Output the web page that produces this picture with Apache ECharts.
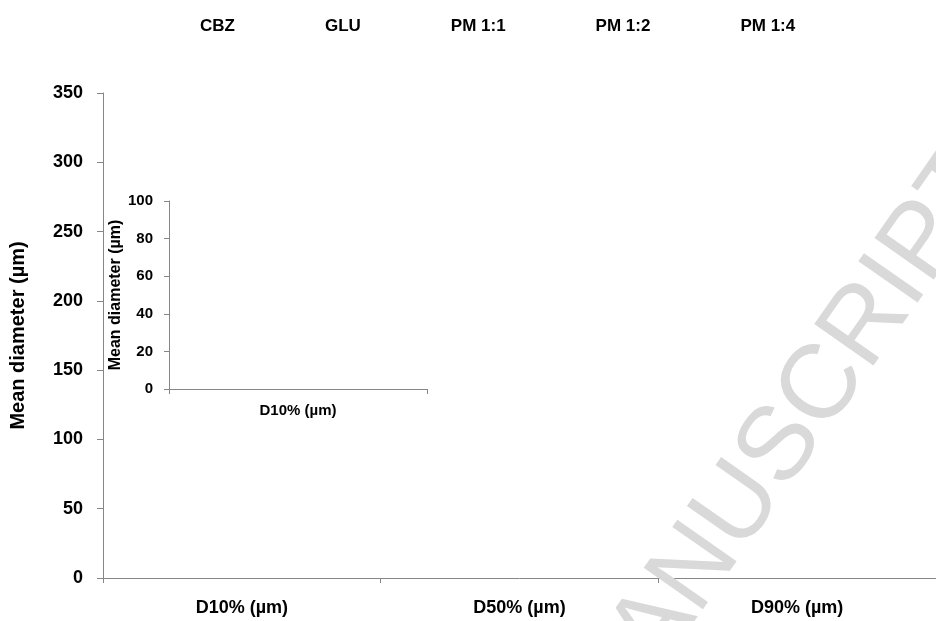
<!DOCTYPE html>
<html>
<head>
<meta charset="utf-8">
<script src="https://cdn.jsdelivr.net/npm/echarts@6/dist/echarts.min.js"></script>
<style>html,body{margin:0;padding:0;background:#fff}#c{width:936px;height:621px}</style>
</head>
<body>
<div id="c"></div>
<script>
// Categories and tick labels
const categories = ['D10% (µm)', 'D50% (µm)', 'D90% (µm)'];
const insetCategories = ['D10% (µm)'];
const seriesNames = ['CBZ', 'GLU', 'PM 1:1', 'PM 1:2', 'PM 1:4'];
const yTicksMain = [0, 50, 100, 150, 200, 250, 300, 350];
const yTicksInset = [0, 20, 40, 60, 80, 100];
// Series values: no bars are visible in the reference, so values are unknown (null)
const valuesCBZ = [null, null, null];
const valuesGLU = [null, null, null];
const valuesPM11 = [null, null, null];
const valuesPM12 = [null, null, null];
const valuesPM14 = [null, null, null];
const insetCBZ = [null];
const insetGLU = [null];
const insetPM11 = [null];
const insetPM12 = [null];
const insetPM14 = [null];
const watermarkText = 'ACCEPTED MANUSCRIPT';

const FONT = '"Liberation Sans", Arial, sans-serif';
const axisGray = '#868686';
const mainVals = [valuesCBZ, valuesGLU, valuesPM11, valuesPM12, valuesPM14];
const insetVals = [insetCBZ, insetGLU, insetPM11, insetPM12, insetPM14];

const chart = echarts.init(document.getElementById('c'));
const series = [];
seriesNames.forEach((n, i) => {
  series.push({ name: n, type: 'bar', xAxisIndex: 0, yAxisIndex: 0, data: mainVals[i] });
});
seriesNames.forEach((n, i) => {
  series.push({ name: n, type: 'bar', xAxisIndex: 1, yAxisIndex: 1, data: insetVals[i] });
});

chart.setOption({
  animation: false,
  backgroundColor: '#fff',
  textStyle: { fontFamily: FONT },
  legend: {
    data: seriesNames,
    left: 165, top: 13,
    itemWidth: 25, itemHeight: 12, itemGap: 60,
    itemStyle: { opacity: 0 },
    textStyle: { fontFamily: FONT, fontWeight: 'bold', fontSize: 17, color: '#000' }
  },
  grid: [
    { left: 103, top: 93, width: 837, height: 485 },
    { left: 169, top: 201, width: 258, height: 188 }
  ],
  xAxis: [
    {
      type: 'category', gridIndex: 0, data: categories,
      axisLine: { lineStyle: { color: axisGray, width: 1 } },
      axisTick: { show: true, length: 5, lineStyle: { color: axisGray } },
      axisLabel: { margin: 21, color: '#000', fontFamily: FONT, fontWeight: 'bold', fontSize: 18 }
    },
    {
      type: 'category', gridIndex: 1, data: insetCategories,
      axisLine: { lineStyle: { color: axisGray, width: 1 } },
      axisTick: { show: true, length: 5, lineStyle: { color: axisGray } },
      axisLabel: { margin: 14, color: '#000', fontFamily: FONT, fontWeight: 'bold', fontSize: 15 }
    }
  ],
  yAxis: [
    {
      type: 'value', gridIndex: 0, min: yTicksMain[0], max: yTicksMain[yTicksMain.length - 1], interval: 50,
      name: 'Mean diameter (µm)', nameLocation: 'middle', nameGap: 75, nameRotate: 90,
      nameTextStyle: { color: '#000', fontFamily: FONT, fontWeight: 'bold', fontSize: 20 },
      axisLine: { show: true, lineStyle: { color: axisGray, width: 1 } },
      axisTick: { show: true, length: 6, lineStyle: { color: axisGray } },
      splitLine: { show: false },
      axisLabel: { margin: 20, color: '#000', fontFamily: FONT, fontWeight: 'bold', fontSize: 18 }
    },
    {
      type: 'value', gridIndex: 1, min: yTicksInset[0], max: yTicksInset[yTicksInset.length - 1], interval: 20,
      name: 'Mean diameter (µm)', nameLocation: 'middle', nameGap: 44, nameRotate: 90,
      nameTextStyle: { color: '#000', fontFamily: FONT, fontWeight: 'bold', fontSize: 16 },
      axisLine: { show: true, lineStyle: { color: axisGray, width: 1 } },
      axisTick: { show: true, length: 5, lineStyle: { color: axisGray } },
      splitLine: { show: false },
      axisLabel: { margin: 16, color: '#000', fontFamily: FONT, fontWeight: 'bold', fontSize: 15 }
    }
  ],
  graphic: [
    {
      type: 'text', x: 982, y: 160, rotation: 55 * Math.PI / 180, z: 100, silent: true,
      style: { text: watermarkText, fill: '#d9d9d9', fontSize: 105, fontFamily: FONT, align: 'right', verticalAlign: 'middle' }
    }
  ],
  series: series
});
</script>
</body>
</html>
